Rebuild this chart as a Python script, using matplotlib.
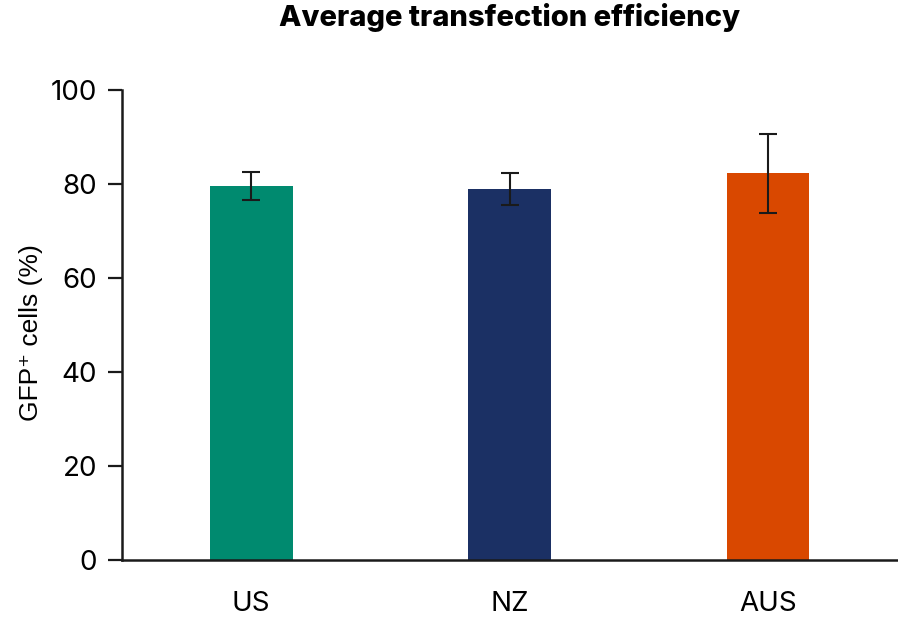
import matplotlib
matplotlib.use("Agg")
import matplotlib.pyplot as plt
import numpy as np

categories = ["US", "NZ", "AUS"]
values = [79.6, 78.9, 82.3]
errors = [3.0, 3.4, 8.4]
colors = ["#008A6F", "#1B3064", "#D94800"]
yticks = [0, 20, 40, 60, 80, 100]

fig = plt.figure(figsize=(8.98, 6.2), dpi=100)
ax = fig.add_axes([122/898, 1-560/620, (897-122)/898, (560-90)/620])

x = np.arange(len(categories))
ax.bar(x, values, width=0.32, color=colors, zorder=2)
ax.errorbar(x, values, yerr=errors, fmt="none", ecolor="#1a1a1a",
            elinewidth=1.5, capsize=6.5, capthick=1.5, zorder=3)

ax.set_xlim(-0.5, 2.5)
ax.set_ylim(0, 100)
ax.set_yticks(yticks)
ax.set_yticklabels([str(t) for t in yticks], fontsize=20, family="Inter")
ax.set_xticks(x)
ax.set_xticklabels(categories, fontsize=20, family="Inter")
ax.tick_params(axis="x", length=0, pad=22)
ax.tick_params(axis="y", length=10, width=1.6, direction="out", pad=8, color="#1a1a1a")
for s in ["top", "right"]:
    ax.spines[s].set_visible(False)
for s in ["left", "bottom"]:
    ax.spines[s].set_linewidth(1.8)
    ax.spines[s].set_color("#1a1a1a")

ax.set_ylabel("GFP\u207a cells (%)", fontsize=19,
              family=["Liberation Sans", "DejaVu Sans"])
ax.yaxis.set_label_coords(-0.102, 0.483)
fig.text((122+897)/2/898, 1-18/620, "Average transfection efficiency",
         ha="center", va="center", fontsize=21, fontweight="heavy", family="Inter")

fig.savefig("out.png", dpi=100)
